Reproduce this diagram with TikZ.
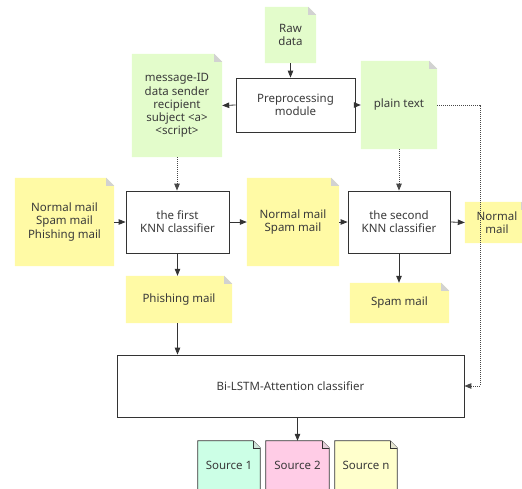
\documentclass[tikz,border=0pt]{standalone}
\usepackage{fontspec}
\setmainfont{Noto Sans}
\usetikzlibrary{arrows.meta,calc}
\pgfdeclarelayer{background}
\pgfsetlayers{background,main}
\definecolor{notegreen}{HTML}{E3FCCB}
\definecolor{noteyellow}{HTML}{FFFAA5}
\definecolor{foldgray}{HTML}{D2D2D2}
\definecolor{linec}{HTML}{333333}
\definecolor{textc}{HTML}{3A3A3A}
\definecolor{srcmint}{HTML}{CCFFE6}
\definecolor{srcpink}{HTML}{FFCCE6}
\definecolor{srcyellow}{HTML}{FFFFCC}
\newcommand{\mynote}[3]{% name, fill, fold size
  \begin{pgfonlayer}{background}
  \fill[#2] (#1.north west) -- ($(#1.north east)+(-#3,0)$) -- ($(#1.north east)+(0,-#3)$) -- (#1.south east) -- (#1.south west) -- cycle;
  \fill[foldgray] ($(#1.north east)+(-#3,0)$) -- ($(#1.north east)+(0,-#3)$) -- ($(#1.north east)+(-#3,-#3)$) -- cycle;
  \end{pgfonlayer}}
\newcommand{\mysrc}[2]{% name, fill
  \begin{pgfonlayer}{background}
  \filldraw[fill=#2,draw=linec,line width=0.8pt] (#1.south west) -- (#1.north west) -- ($(#1.north east)+(-7pt,0)$) -- ($(#1.north east)+(0,-7pt)$) -- (#1.south east) -- cycle;
  \filldraw[fill=foldgray!60!#2,draw=linec,line width=0.6pt] ($(#1.north east)+(-7pt,0)$) -- ($(#1.north east)+(-7pt,-7pt)$) -- ($(#1.north east)+(0,-7pt)$);
  \end{pgfonlayer}}
\begin{document}
\begin{tikzpicture}[x=1pt,y=-1pt,
  every node/.style={font=\fontsize{11.5}{13.2}\selectfont, text=textc, align=center, inner sep=0pt},
  boxnode/.style={draw=linec, line width=0.8pt, fill=white},
  conn/.style={draw=linec, line width=0.8pt, -{Triangle[length=7pt,width=5.5pt]}},
  dconn/.style={draw=linec!90, line width=0.9pt, dash pattern=on 1pt off 1pt, -{Triangle[length=7pt,width=5.5pt]}}]
\useasboundingbox (0,0) rectangle (522,488);

% notes
\node[minimum width=51pt, minimum height=56pt] (raw) at (290.5,35) {Raw\\data};
\mynote{raw}{notegreen}{8pt}
\node[boxnode, minimum width=119pt, minimum height=54pt] (pre) at (295.5,105) {Preprocessing\\module};
\node[minimum width=90pt, minimum height=103pt] (msg) at (177,105.5) {message-ID\\data sender\\recipient\\subject <a>\\<script>};
\mynote{msg}{notegreen}{8pt}
\node[minimum width=76pt, minimum height=88pt] (plain) at (399,105) {plain text};
\mynote{plain}{notegreen}{8pt}

\node[minimum width=99pt, minimum height=88pt] (nsp) at (64.5,222) {Normal mail\\Spam mail\\Phishing mail};
\mynote{nsp}{noteyellow}{8pt}
\node[boxnode, minimum width=103pt, minimum height=62pt] (knn1) at (177.5,222) {the first\\KNN classifier};
\node[minimum width=92pt, minimum height=88pt] (ns) at (293,222) {Normal mail\\Spam mail};
\mynote{ns}{noteyellow}{8pt}
\node[boxnode, minimum width=102pt, minimum height=62pt] (knn2) at (399,222) {the second\\KNN classifier};
\node[minimum width=64pt, minimum height=41pt, text width=60pt] (normal) at (497,222.5) {Normal\\mail};
\mynote{normal}{noteyellow}{8pt}

\node[minimum width=106pt, minimum height=47pt] (phish) at (179,299.5) {Phishing mail};
\mynote{phish}{noteyellow}{8pt}
\node[minimum width=99pt, minimum height=40pt] (spam) at (399.5,303) {Spam mail};
\mynote{spam}{noteyellow}{8pt}

\node[boxnode, minimum width=347pt, minimum height=62pt] (bil) at (290.5,386) {Bi-LSTM-Attention classifier};

\node[minimum width=62pt, minimum height=49pt] (s1) at (229,465.5) {Source 1};
\mysrc{s1}{srcmint}
\node[minimum width=63pt, minimum height=49pt] (s2) at (297.5,465.5) {Source 2};
\mysrc{s2}{srcpink}
\node[minimum width=62pt, minimum height=49pt] (sn) at (366,465.5) {Source n};
\mysrc{sn}{srcyellow}

% connectors
\draw[conn] (raw.south) -- (raw.south |- pre.north);
\draw[conn] (pre.west) -- (msg.east);
\draw[conn] (pre.east) -- (plain.west);
\draw[dconn] (msg.south) -- (msg.south |- knn1.north);
\draw[dconn] (plain.south) -- (plain.south |- knn2.north);
\coordinate (c1) at (480,386);
\draw[dconn] (plain.east) -| (c1) -- (bil.east);
\draw[conn] (nsp.east) -- (knn1.west);
\draw[conn] (knn1.east) -- (ns.west);
\draw[conn] (ns.east) -- (knn2.west);
\draw[conn] (knn2.east) -- (normal.west);
\draw[conn] (knn1.south) -- (knn1.south |- phish.north);
\draw[conn] (knn2.south) -- (knn2.south |- spam.north);
\draw[conn] (knn1.south |- phish.south) -- (knn1.south |- bil.north);
\draw[conn] (s2.north |- bil.south) -- (s2.north);
\end{tikzpicture}
\end{document}
